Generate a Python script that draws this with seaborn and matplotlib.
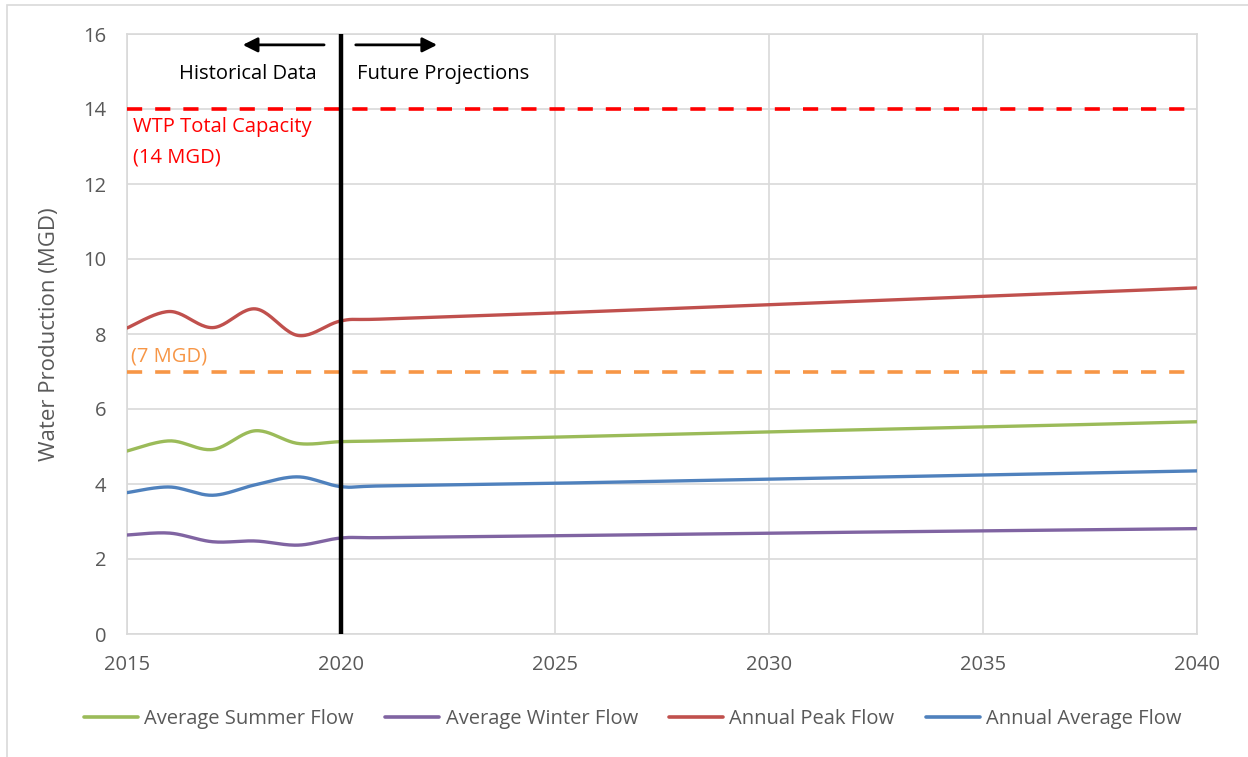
import numpy as np
import pandas as pd
import seaborn as sns
import matplotlib.pyplot as plt
from matplotlib.patches import Rectangle

# data (MGD)
years = [2015, 2016, 2017, 2018, 2019, 2020, 2021, 2025, 2030, 2035, 2040]
summer = [4.88, 5.15, 4.92, 5.42, 5.08, 5.13, 5.15, 5.25, 5.39, 5.52, 5.66]
winter = [2.64, 2.69, 2.46, 2.48, 2.37, 2.56, 2.57, 2.62, 2.69, 2.75, 2.81]
peak = [8.16, 8.60, 8.17, 8.67, 7.96, 8.35, 8.40, 8.56, 8.78, 9.00, 9.23]
average = [3.77, 3.92, 3.70, 3.98, 4.19, 3.93, 3.95, 4.02, 4.13, 4.24, 4.35]

series_names = ["Average Summer Flow", "Average Winter Flow", "Annual Peak Flow", "Annual Average Flow"]
series_colors = ["#9BBB59", "#8064A2", "#C0504D", "#4F81BD"]

total_capacity = 14
half_capacity = 7


# excel style smoothed line (bezier through the points)
def smooth(x, y, n=25):
    p = np.column_stack([x, y]).astype(float)
    p = np.vstack([p[0], p, p[-1]])
    t = np.linspace(0, 1, n)[:, None]
    out = []
    for i in range(1, len(p) - 2):
        p0, p1, p2, p3 = p[i - 1], p[i], p[i + 1], p[i + 2]
        c1 = p1 + (p2 - p0) / 6
        c2 = p2 - (p3 - p1) / 6
        seg = ((1 - t) ** 3) * p1 + 3 * ((1 - t) ** 2) * t * c1 + 3 * (1 - t) * t ** 2 * c2 + t ** 3 * p2
        out.append(seg if i == 1 else seg[1:])
    out = np.vstack(out)
    return out[:, 0], out[:, 1]


frames = []
for name, vals in zip(series_names, [summer, winter, peak, average]):
    sx, sy = smooth(years, vals)
    frames.append(pd.DataFrame({"Year": sx, "MGD": sy, "Series": name}))
df = pd.concat(frames, ignore_index=True)

sns.set_theme(style="white")
plt.rcParams['font.family'] = ['Open Sans', 'DejaVu Sans']

fig = plt.figure(figsize=(12.48, 7.57), dpi=100)
ax = fig.add_axes([127 / 1248, 1 - 634 / 757, 1070 / 1248, 600 / 757])

grey = "#D9D9D9"
txt = "#595959"
fs = 14.5

ax.axhline(total_capacity, color="#FF0000", lw=2.6, ls=(0, (4.2, 3.6)), zorder=3)
ax.axhline(half_capacity, color="#F79646", lw=2.6, ls=(0, (4.2, 3.6)), zorder=3)

sns.lineplot(data=df, x="Year", y="MGD", hue="Series", hue_order=series_names,
             palette=series_colors, sort=False, estimator=None, units="Series",
             lw=2.4, ax=ax, zorder=4)

ax.axvline(2020, color="black", lw=3.2, zorder=5)

ax.set_xlim(2015, 2040)
ax.set_ylim(0, 16)
ax.set_xticks(range(2015, 2041, 5))
ax.set_yticks(range(0, 17, 2))
ax.grid(True, color=grey, lw=1.2)
for s in ax.spines.values():
    s.set_color(grey)
    s.set_linewidth(1.2)
ax.tick_params(axis="both", length=0, labelsize=fs, labelcolor=txt)
ax.tick_params(axis="y", pad=15)
ax.tick_params(axis="x", pad=15)
ax.set_xlabel("")
ax.set_ylabel("Water Production (MGD)", fontsize=16, color=txt)
ax.yaxis.set_label_coords(-0.063, 0.5)

# annotations
ax.text(2019.44, 14.93, "Historical Data", ha="right", va="center", fontsize=fs, color="black")
ax.text(2020.37, 14.93, "Future Projections", ha="left", va="center", fontsize=fs, color="black")
ax.annotate("", xy=(2017.64, 15.71), xytext=(2019.67, 15.71),
            arrowprops=dict(arrowstyle="-|>", color="black", lw=2, mutation_scale=22))
ax.annotate("", xy=(2022.31, 15.71), xytext=(2020.28, 15.71),
            arrowprops=dict(arrowstyle="-|>", color="black", lw=2, mutation_scale=22))
ax.text(2015.14, 13.52, "WTP Total Capacity", ha="left", va="center", fontsize=fs, color="#FF0000")
ax.text(2015.14, 12.72, "(14 MGD)", ha="left", va="center", fontsize=fs, color="#FF0000")
ax.text(2015.1, 7.39, "(7 MGD)", ha="left", va="center", fontsize=fs, color="#F79646")

ax.get_legend().remove()
handles, labels = ax.get_legend_handles_labels()
leg = fig.legend(handles, labels, loc="center", bbox_to_anchor=(0.507, 1 - 719 / 757), ncol=4,
                 frameon=False, fontsize=fs, handlelength=2.7, handletextpad=0.3, columnspacing=1.55)
for t in leg.get_texts():
    t.set_color(txt)
for h in leg.get_lines():
    h.set_linewidth(2.6)

# chart area border
fig.add_artist(Rectangle((7 / 1248, -0.1), 2, 1.1 - 5 / 757, transform=fig.transFigure,
                         fill=False, edgecolor=grey, lw=1.2))

fig.savefig("out.png", dpi=100)
